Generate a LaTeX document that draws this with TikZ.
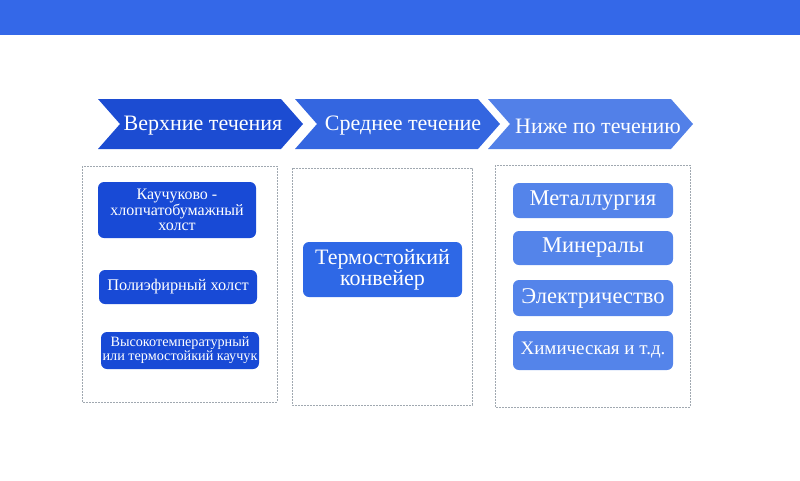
\documentclass[tikz,border=0pt]{standalone}
\usepackage{fontspec}
\setmainfont{Liberation Serif}
\usepackage{xcolor}
\definecolor{barblue}{RGB}{52,104,232}
\definecolor{chevA}{RGB}{28,76,210}
\definecolor{chevB}{RGB}{52,102,224}
\definecolor{chevC}{RGB}{82,128,232}
\definecolor{boxA}{RGB}{24,74,214}
\definecolor{boxB}{RGB}{46,104,230}
\definecolor{boxC}{RGB}{84,132,234}
\definecolor{framegray}{RGB}{160,168,176}

\begin{document}
\begin{tikzpicture}[x=1pt,y=-1pt]
    \tikzstyle{frame}=[draw=framegray,line width=0.8pt,dash pattern=on 1.6pt off 1.4pt]
    \tikzstyle{chevtext}=[text=white,font=\fontsize{22}{22}\selectfont]
    \tikzstyle{upbox}=[rounded corners=6pt,fill=boxA,text=white,align=center,minimum width=158pt,inner sep=0pt]
    \tikzstyle{midbox}=[rounded corners=6pt,fill=boxB,text=white,align=center,minimum width=159pt,inner sep=0pt]
    \tikzstyle{downbox}=[rounded corners=6pt,fill=boxC,text=white,align=center,minimum width=160pt,inner sep=0pt,font=\fontsize{22.5}{22.5}\selectfont]
    \useasboundingbox (0,0) rectangle (800,480);
    \fill[barblue] (0,0) rectangle (800,35);
    % chevrons
    \foreach \x/\c in {98/chevA,295/chevB,488/chevC}
        \fill[\c] (\x,99) -- ++(183,0) -- ++(22,25) -- ++(-22,25) -- ++(-183,0) -- ++(22,-25) -- cycle;
    \node (up)[chevtext]   at (203,126) {Верхние течения};
    \node (mid)[chevtext]  at (403,126) {Среднее течение};
    \node (down)[chevtext] at (598,126) {Ниже по течению};
    % frames
    \draw[frame] (82,166) rectangle (277,402);
    \draw[frame] (292,168) rectangle (472,405);
    \draw[frame] (495,165) rectangle (690,407);
    % upstream
    \node (rubber)[upbox,minimum height=56pt,font=\fontsize{16}{15.5}\selectfont] at (177,210) {Каучуково -\\хлопчатобумажный\\холст};
    \node (poly)[upbox,minimum height=34pt,font=\fontsize{16.3}{16}\selectfont] at (178,287) {Полиэфирный холст};
    \node (heat)[upbox,minimum height=37pt,font=\fontsize{14.2}{14}\selectfont] at (180,350.5) {Высокотемпературный\\или термостойкий каучук};
    % midstream
    \node (belt)[midbox,minimum height=55pt,font=\fontsize{22}{21}\selectfont] at (382.5,269.5) {Термостойкий\\конвейер};
    % downstream
    \node (metal)[downbox,minimum height=35pt] at (593,200.5) {Металлургия};
    \node (mineral)[downbox,minimum height=34pt] at (593,248) {Минералы};
    \node (power)[downbox,minimum height=36pt] at (593,298) {Электричество};
    \node (chem)[downbox,minimum height=39pt,font=\fontsize{19}{19}\selectfont] at (593,350.5) {Химическая и т.д.};
\end{tikzpicture}
\end{document}
